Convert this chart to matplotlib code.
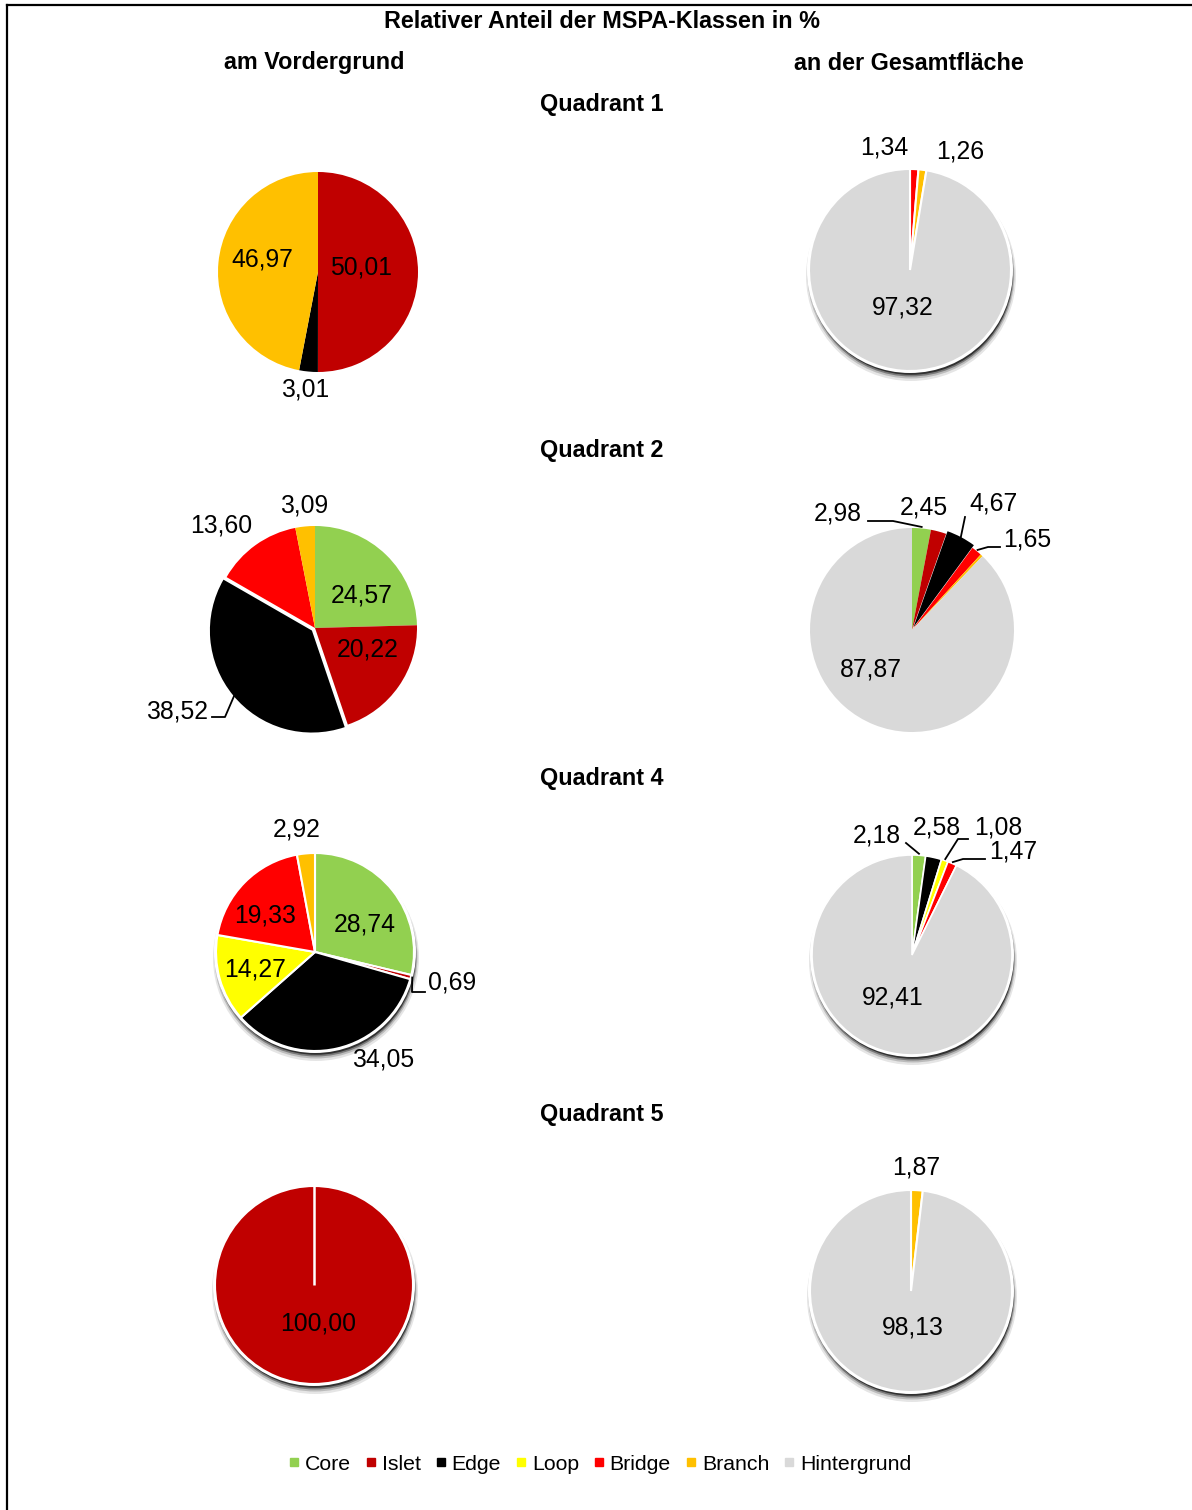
import matplotlib
matplotlib.use("Agg")
import matplotlib.pyplot as plt
import numpy as np
from matplotlib.lines import Line2D
from matplotlib.patches import Circle

plt.rcParams['font.family'] = ['Liberation Sans', 'DejaVu Sans']

# ---------------- data ----------------
class_names = ["Core", "Islet", "Edge", "Loop", "Bridge", "Branch", "Hintergrund"]
class_colors = {"Core": "#92D050", "Islet": "#C00000", "Edge": "#000000", "Loop": "#FFFF00",
                "Bridge": "#FF0000", "Branch": "#FFC000", "Hintergrund": "#D9D9D9"}

title = "Relativer Anteil der MSPA-Klassen in %"
col_titles = ["am Vordergrund", "an der Gesamtfläche"]
quadrants = ["Quadrant 1", "Quadrant 2", "Quadrant 4", "Quadrant 5"]

q1_fg_classes = ["Islet", "Edge", "Branch"]
q1_fg_values = [50.01, 3.01, 46.97]
q1_all_classes = ["Bridge", "Branch", "Hintergrund"]
q1_all_values = [1.34, 1.26, 97.32]

q2_fg_classes = ["Core", "Islet", "Edge", "Bridge", "Branch"]
q2_fg_values = [24.57, 20.22, 38.52, 13.60, 3.09]
q2_all_classes = ["Core", "Islet", "Edge", "Bridge", "Branch", "Hintergrund"]
q2_all_values = [2.98, 2.45, 4.67, 1.65, 0.38, 87.87]
q2_all_labeled = [True, True, True, True, False, True]

q4_fg_classes = ["Core", "Islet", "Edge", "Loop", "Bridge", "Branch"]
q4_fg_values = [28.74, 0.69, 34.05, 14.27, 19.33, 2.92]
q4_all_classes = ["Core", "Edge", "Loop", "Bridge", "Hintergrund"]
q4_all_values = [2.18, 2.58, 1.08, 1.47, 92.41]

q5_fg_classes = ["Islet"]
q5_fg_values = [100.00]
q5_all_classes = ["Branch", "Hintergrund"]
q5_all_values = [1.87, 98.13]

# ---------------- layout (pixels) ----------------
W, H = 1192, 1510
fig = plt.figure(figsize=(W / 100, H / 100), dpi=100)
fig.patch.set_facecolor("white")


def fx(x):
    return x / W


def fy(y):
    return 1 - y / H


# border
fig.add_artist(Line2D([fx(7), fx(7)], [fy(5), 0], color="black", lw=1.6))
fig.add_artist(Line2D([fx(7), 1], [fy(5), fy(5)], color="black", lw=1.6))

HFS = 16.8
fig.text(fx(602), fy(21), title, ha="center", va="center", fontsize=HFS, fontweight="bold")
fig.text(fx(314), fy(63), col_titles[0], ha="center", va="center", fontsize=HFS, fontweight="bold")
fig.text(fx(909), fy(63), col_titles[1], ha="center", va="center", fontsize=HFS, fontweight="bold")
for q, yq in zip(quadrants, [105, 451, 778, 1115]):
    fig.text(fx(602), fy(yq), q, ha="center", va="center", fontsize=HFS, fontweight="bold")


def fmt(v):
    return f"{v:.2f}".replace(".", ",")


def draw_pie(cx, cy, R, classes, values, label_pos, leaders=None, labeled=None,
             shadow=False, edge=None, explode_px=None, radial_line=False):
    ax = fig.add_axes([fx(cx - 200), fy(cy + 170), 400 / W, 340 / H])
    s = 1.0 / R  # px -> data units (radius = 1)
    colors = [class_colors[c] for c in classes]
    if shadow:
        for k, (a, dr, off) in enumerate([(0.10, 4.0, 6.0), (0.18, 2.5, 5.0), (0.35, 1.5, 4.0), (0.6, 0.8, 3.0)]):
            ax.add_patch(Circle((1.0 * s, -off * s), 1 + dr * s, color="#000000", alpha=a, lw=0, zorder=0))
        ax.add_patch(Circle((0, 0), 1 + 2 * s, color="white", lw=0, zorder=0.5))
    explode = None
    if explode_px is not None:
        explode = [e * s for e in explode_px]
    wp = {"linewidth": 0}
    if edge is not None:
        wp = {"edgecolor": "white", "linewidth": edge}
    wedges, _ = ax.pie(values, colors=colors, startangle=90, counterclock=False, radius=1,
                       explode=explode, wedgeprops=wp)
    for w in wedges:
        w.set_zorder(1)
    if radial_line:
        ax.plot([0, 0], [0, 1], color="white", lw=1.8, zorder=2, solid_capstyle="butt")
    if labeled is None:
        labeled = [True] * len(values)
    tot = sum(values)
    cum = np.cumsum([0] + list(values))
    li = 0
    for i, v in enumerate(values):
        if not labeled[i]:
            continue
        dx, dy = label_pos[li]
        ax.text(dx * s, dy * s, fmt(v), ha="center", va="center", fontsize=17.8,
                color="black", zorder=5, clip_on=False)
        if leaders and leaders.get(li):
            mid = np.deg2rad(90 - 360 * (cum[i] + v / 2) / tot)
            r0 = 1.0 + 1.5 * s
            pts = [(r0 * np.cos(mid), r0 * np.sin(mid))] + [(px * s, py * s) for px, py in leaders[li]]
            xs, ys = zip(*pts)
            ax.plot(xs, ys, color="black", lw=1.3, zorder=4, clip_on=False)
        li += 1
    ax.set_xlim(-200 * s, 200 * s)
    ax.set_ylim(-170 * s, 170 * s)
    ax.set_aspect("equal")
    ax.axis("off")
    return ax


# Quadrant 1
draw_pie(318, 272, 100, q1_fg_classes, q1_fg_values,
         [(43, 4), (-13, -118), (-56, 12)])
draw_pie(910, 270, 101, q1_all_classes, q1_all_values,
         [(-26, 122), (50, 118), (-7, -37)], shadow=True, edge=1.5)

# Quadrant 2
draw_pie(315, 628, 102, q2_fg_classes, q2_fg_values,
         [(47, 33), (53, -22), (-138, -84), (-94, 102), (-11, 122)],
         leaders={2: [(-90, -89), (-103, -89)]},
         edge=None, explode_px=[0, 0, 4, 0, 0])
draw_pie(912, 630, 102, q2_all_classes, q2_all_values,
         [(-74, 117), (12, 122), (81, 126), (115, 90), (-41, -40)],
         leaders={0: [(-19, 109), (-44, 109)], 2: [(53, 113)], 3: [(76, 83), (88, 83)]},
         labeled=q2_all_labeled, explode_px=[0, 0, 3, 0, 0, 0])

# Quadrant 4
draw_pie(315, 952, 99, q4_fg_classes, q4_fg_values,
         [(50, 27), (137, -31), (68, -107), (-60, -18), (-50, 36), (-18, 122)],
         leaders={1: [(97, -40), (110, -40)]}, shadow=True, edge=1.5)
draw_pie(912, 955, 100, q4_all_classes, q4_all_values,
         [(-35, 119), (25, 127), (86, 127), (101, 104), (-19, -42)],
         leaders={0: [(-6, 112)], 2: [(46, 116), (56, 116)], 3: [(51, 96), (73, 96)]},
         shadow=True, edge=1.2)

# Quadrant 5
draw_pie(314, 1285, 99, q5_fg_classes, q5_fg_values,
         [(4, -39)], shadow=True, edge=1.5, radial_line=True)
draw_pie(911, 1291, 101, q5_all_classes, q5_all_values,
         [(5, 124), (2, -37)], shadow=True, edge=1.5)

# legend
handles = [Line2D([], [], marker="s", linestyle="none", markersize=6,
                  markerfacecolor=class_colors[c], markeredgecolor=class_colors[c]) for c in class_names]
fig.legend(handles, class_names, loc="center", bbox_to_anchor=(fx(600), fy(1464)), ncol=7,
           frameon=False, fontsize=15.3, handlelength=0.5, handletextpad=0.25, columnspacing=0.7,
           borderpad=0, borderaxespad=0)

fig.savefig("out.png", dpi=100)
